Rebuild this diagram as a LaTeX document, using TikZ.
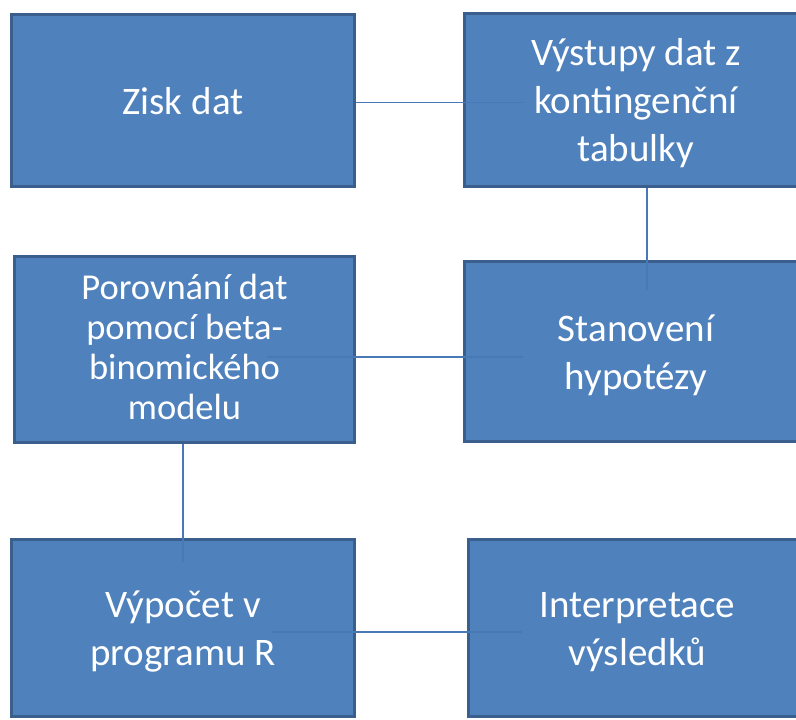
\documentclass[tikz,border=0pt]{standalone}
\usepackage{fontspec}
\setmainfont{Carlito}
\definecolor{boxfill}{HTML}{4F81BD}
\definecolor{boxline}{HTML}{3A5F8C}
\definecolor{connline}{HTML}{4878B5}
\newcommand{\mytopstrut}[1]{\rule{0pt}{#1}}
\newcommand{\mybotstrut}[1]{\rule[-#1]{0pt}{#1}}
\begin{document}
\begin{tikzpicture}[x=1pt,y=-1pt,
  box/.style={draw=boxline, line width=3pt, fill=boxfill, text=white,
    align=center, inner sep=0pt, font=\fontsize{39}{48}\selectfont},
  conn/.style={draw=connline, line width=1.5pt}]
\useasboundingbox (0,0) rectangle (796,720);
\clip (0,0) rectangle (796,720);
\node[box, minimum width=343, minimum height=172] (b1) at (183,100.5)
  {\mytopstrut{36pt}Zisk dat\mybotstrut{9pt}};
\node[box, minimum width=343, minimum height=173] (b2) at (636,100)
  {\mytopstrut{36pt}Výstupy dat z\\kontingenční\\tabulky\mybotstrut{9pt}};
\node[box, minimum width=340, minimum height=186, font=\fontsize{36.5}{40}\selectfont] (b3) at (184.5,349.5)
  {\mytopstrut{30pt}Porovnání dat\\pomocí beta-\\binomického\\modelu\mybotstrut{11pt}};
\node[box, minimum width=343, minimum height=180] (b4) at (636,351.5)
  {\mytopstrut{36pt}Stanovení\\hypotézy\mybotstrut{9pt}};
\node[box, minimum width=343, minimum height=177] (b5) at (183,628)
  {\mytopstrut{36pt}Výpočet v\\programu R\mybotstrut{9pt}};
\node[box, minimum width=338, minimum height=177] (b6) at (637.5,628)
  {\mytopstrut{36pt}Interpretace\\výsledků\mybotstrut{9pt}};
\draw[conn] ([yshift=-2pt]b1.east) -- ([xshift=60pt,yshift=-2.5pt]b2.west);
\draw[conn] ([xshift=11pt]b2.south) -- ([xshift=11pt,yshift=-30pt]b4.north);
\draw[conn] ([xshift=-89pt,yshift=-7.5pt]b3.east) -- ([xshift=60pt,yshift=-5.5pt]b4.west);
\draw[conn] ([xshift=-1.5pt]b3.south) -- ([yshift=-24pt]b5.north);
\draw[conn] ([xshift=-84pt,yshift=-4pt]b5.east) -- ([xshift=55pt,yshift=-4pt]b6.west);
\end{tikzpicture}
\end{document}
